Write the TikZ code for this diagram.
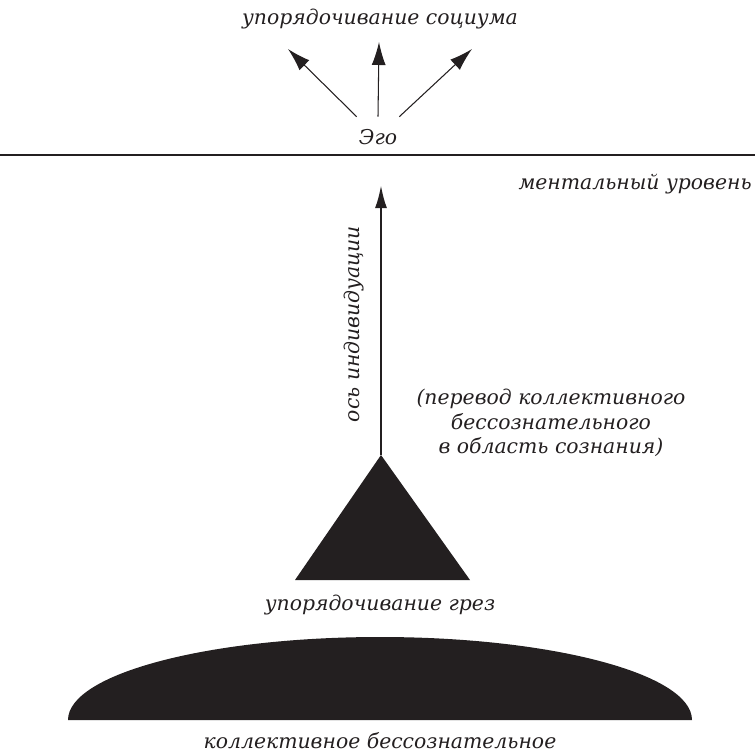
\documentclass[tikz,border=0pt]{standalone}
\usepackage{fontspec}
\setmainfont{DejaVu Serif}
\usetikzlibrary{arrows.meta}
\definecolor{ink}{HTML}{231F20}
\tikzset{
  lbl/.style={font=\itshape\fontsize{11.6}{14}\selectfont, text=ink, inner sep=0pt},
  arr/.style={draw=ink, line width=0.6pt, -{Latex[length=4.6mm,width=2.8mm]}},
  axisarr/.style={draw=ink, line width=1.4pt, -{Latex[length=4.6mm,width=2.4mm]}}
}
\begin{document}
\begin{tikzpicture}[x=0.02cm,y=-0.02cm]
\useasboundingbox (0,0) rectangle (755,755);

% top: ego and its three arrows
\node[lbl] (socium) at (380,19) {упорядочивание социума};
\node[lbl, minimum width=0.84cm, minimum height=0.8cm] (ego) at (378,137) {Эго};
\coordinate (tl) at (288,49);
\coordinate (tm) at (379,42);
\coordinate (tr) at (472,49);
\draw[arr] (ego.north west) -- (tl);
\draw[arr] (ego.north) -- (tm);
\draw[arr] (ego.north east) -- (tr);

\draw[ink, line width=0.9pt] (0,155) -- (755,155);
\node[lbl, anchor=east] (mental) at (752,184) {ментальный уровень};

% axis of individuation
\coordinate (apex) at (381,455);
\coordinate (axtop) at (381,185);
\fill[ink] (apex) -- (295,580) -- (470,580) -- cycle;
\draw[axisarr] (apex) -- (axtop);
\node[lbl, rotate=90] (axis) at (354,324) {ось индивидуации};
\node[lbl, align=center] (transl) at (551,423)
  {(перевод коллективного\\бессознательного\\в область сознания)};
\node[lbl] (dreams) at (380,605) {упорядочивание грез};

% collective unconscious
\fill[ink] (68,720) .. controls (68,674) and (208,637) .. (380,637)
  .. controls (552,637) and (692,674) .. (692,720) -- cycle;
\node[lbl] (collective) at (380,741) {коллективное бессознательное};
\end{tikzpicture}
\end{document}
